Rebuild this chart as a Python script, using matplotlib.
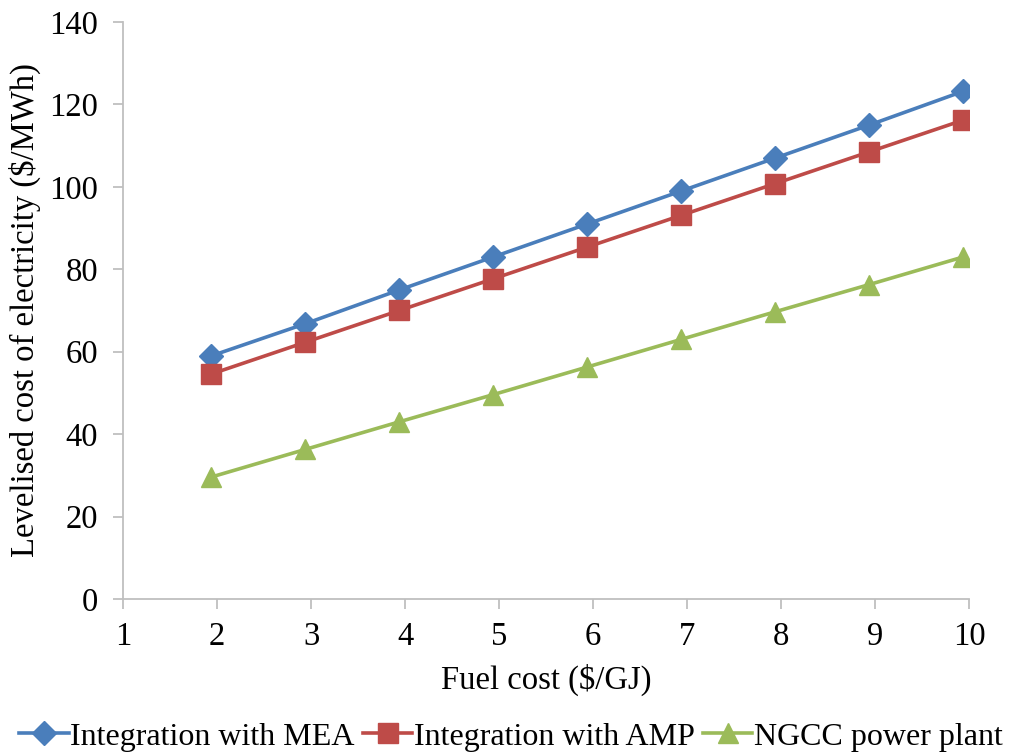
import matplotlib
matplotlib.use("Agg")
import matplotlib.pyplot as plt

# Fuel cost ($/GJ) and levelised cost of electricity ($/MWh)
fuel_cost = [1.94, 2.94, 3.94, 4.94, 5.94, 6.94, 7.94, 8.94, 9.94]
lcoe_mea = [59.0, 66.8, 75.0, 83.0, 91.0, 99.0, 107.0, 115.0, 123.2]
lcoe_amp = [54.6, 62.3, 70.0, 77.7, 85.4, 93.1, 100.8, 108.5, 116.2]
lcoe_ngcc = [29.6, 36.3, 43.0, 49.6, 56.3, 63.0, 69.7, 76.3, 83.0]

series_names = ["Integration with MEA", "Integration with AMP", "NGCC power plant"]
x_ticks = [1, 2, 3, 4, 5, 6, 7, 8, 9, 10]
y_ticks = [0, 20, 40, 60, 80, 100, 120, 140]

plt.rcParams["font.family"] = ["Liberation Serif", "DejaVu Serif"]
FS = 23.5

fig = plt.figure(figsize=(10.22, 7.53), dpi=100)
ax = fig.add_axes([0.1204, 0.2045, 0.8277, 0.7663])

styles = [
    dict(color="#4A7EBB", marker="D", markersize=12.5),
    dict(color="#BE4B48", marker="s", markersize=14),
    dict(color="#9BBB59", marker="^", markersize=15),
]
for vals, name, st in zip([lcoe_mea, lcoe_amp, lcoe_ngcc], series_names, styles):
    ax.plot(fuel_cost, vals, label=name, linewidth=2.6, color=st["color"],
            marker=st["marker"], markersize=st["markersize"],
            markerfacecolor=st["color"], markeredgecolor=st["color"])

ax.set_xlim(1, 10)
ax.set_ylim(0, 140)
ax.set_xticks(x_ticks)
ax.set_yticks(y_ticks)

for side in ("top", "right"):
    ax.spines[side].set_visible(False)
for side in ("left", "bottom"):
    ax.spines[side].set_color("#BFBFBF")
    ax.spines[side].set_linewidth(1.3)
ax.tick_params(axis="both", direction="out", length=7, width=1.3,
               color="#BFBFBF", labelsize=FS, labelcolor="black")
ax.tick_params(axis="x", pad=9)
ax.tick_params(axis="y", pad=11)

ax.set_xlabel("Fuel cost ($/GJ)", fontsize=FS, labelpad=9)
ax.set_ylabel("Levelised cost of electricity ($/MWh)", fontsize=FS, labelpad=6)

ax.legend(loc="lower center", bbox_to_anchor=(0.4586, -0.27), ncol=3, frameon=False,
          fontsize=23, handlelength=1.55, handletextpad=0.05, columnspacing=0.25,
          borderaxespad=0, borderpad=0.1)

fig.savefig("out.png", dpi=100)
